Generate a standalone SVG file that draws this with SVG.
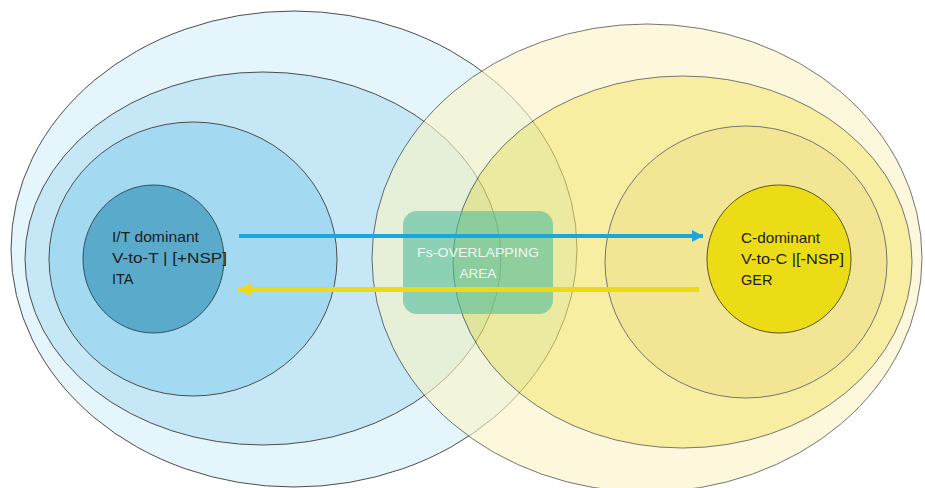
<svg xmlns="http://www.w3.org/2000/svg" width="925" height="488" viewBox="0 0 925 488">
  <style>
    .ring { stroke: #4d4d4d; stroke-width: 1; }
    .label { font-family: "Liberation Sans", Arial, sans-serif; font-size: 14.5px; fill: #1c1c1c; }
    .area { font-family: "Liberation Sans", Arial, sans-serif; font-size: 13.5px; fill: #eef8f2; text-anchor: middle; }
    .blue-line { stroke: #1ba6dd; stroke-width: 4; fill: none; }
    .yellow-line { stroke: #ecd91a; stroke-width: 5; fill: none; }
  </style>
  <defs>
    <marker id="head-blue" viewBox="0 0 11 12" refX="11" refY="6" markerWidth="11" markerHeight="12" markerUnits="userSpaceOnUse" orient="auto">
      <path d="M0,0 L11,6 L0,12 Z" fill="#1ba6dd"/>
    </marker>
    <marker id="head-yellow" viewBox="0 0 14 14" refX="14" refY="7" markerWidth="14" markerHeight="14" markerUnits="userSpaceOnUse" orient="auto">
      <path d="M0,0 L14,7 L0,14 Z" fill="#ecd91a"/>
    </marker>
  </defs>

  <rect width="925" height="488" fill="#ffffff"/>

  <!-- I/T-dominant field: nested blue ellipses -->
  <g id="field-it">
    <ellipse class="ring" cx="294" cy="249" rx="283" ry="238" fill="#e5f5fc"/>
    <ellipse class="ring" cx="263" cy="258.5" rx="238" ry="186.5" fill="#c6e8f6"/>
    <ellipse class="ring" cx="193" cy="259" rx="144" ry="137" fill="#a4daf1"/>
  </g>

  <!-- C-dominant field: translucent yellow ellipses laid over the blue ones -->
  <g id="field-c" opacity="0.6">
    <ellipse cx="647" cy="258" rx="275" ry="234" fill="#fcf5c5" stroke="#1a1a1a" stroke-width="1"/>
    <ellipse cx="682.5" cy="262" rx="229.5" ry="186" fill="#f2e464" stroke="#1a1a1a" stroke-width="1"/>
    <ellipse cx="746" cy="262" rx="141" ry="136" fill="#ebd44e" stroke="#1a1a1a" stroke-width="1"/>
  </g>

  <!-- Italian core -->
  <g id="node-ita">
    <ellipse cx="153.5" cy="259" rx="70.5" ry="74" fill="#5aaacc" stroke="#2f4f5c" stroke-width="1"/>
    <text class="label" x="112" y="242" textLength="87" lengthAdjust="spacingAndGlyphs">I/T dominant</text>
    <text class="label" x="112" y="263" textLength="115" lengthAdjust="spacingAndGlyphs">V-to-T | [+NSP]</text>
    <text class="label" x="112" y="284">ITA</text>
  </g>

  <!-- German core -->
  <g id="node-ger">
    <ellipse cx="779" cy="259" rx="72" ry="74" fill="#ecdc16" stroke="#5c5520" stroke-width="1"/>
    <text class="label" x="741" y="243" textLength="79" lengthAdjust="spacingAndGlyphs">C-dominant</text>
    <text class="label" x="741" y="264" textLength="103" lengthAdjust="spacingAndGlyphs">V-to-C |[-NSP]</text>
    <text class="label" x="741" y="285">GER</text>
  </g>

  <!-- Overlap box -->
  <g id="node-overlap">
    <rect x="403" y="211" width="150" height="103" rx="14" fill="#51bd9c" opacity="0.6"/>
    <text class="area" x="478" y="257" textLength="122" lengthAdjust="spacingAndGlyphs">Fs-OVERLAPPING</text>
    <text class="area" x="478" y="278">AREA</text>
  </g>

  <!-- Connectors -->
  <g id="connectors">
    <line class="blue-line" x1="239" y1="236" x2="703" y2="236" marker-end="url(#head-blue)"/>
    <line class="yellow-line" x1="699" y1="289.5" x2="238" y2="289.5" marker-end="url(#head-yellow)"/>
  </g>
</svg>
